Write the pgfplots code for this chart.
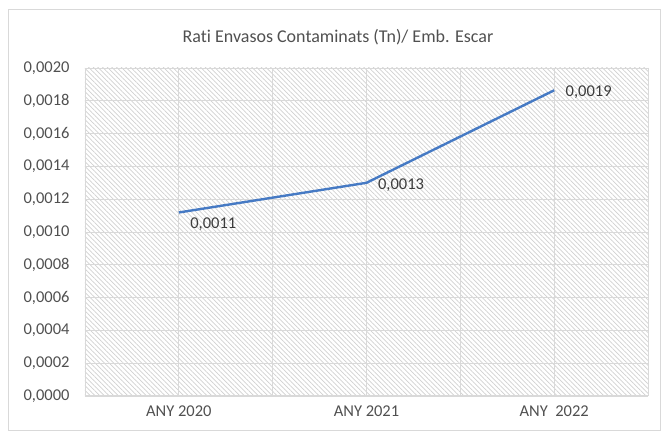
\documentclass[border=0pt]{standalone}
\usepackage{fontspec}
\setmainfont{Carlito}[Ligatures=NoCommon]
\usepackage{pgfplots}
\pgfplotsset{compat=1.18}
\usetikzlibrary{patterns.meta}
\definecolor{txtgray}{RGB}{80,80,80}
\definecolor{lblgray}{RGB}{60,60,60}
\definecolor{gridgray}{RGB}{217,217,217}
\definecolor{hatchgray}{RGB}{208,208,208}
\definecolor{linecol}{RGB}{70,122,196}
\begin{document}
\begin{tikzpicture}[x=1pt,y=1pt]
\path[use as bounding box] (0,0) rectangle (665,436);
\draw[gridgray, line width=0.8pt] (8,6) rectangle (660,427);
\node[text=txtgray, font=\fontsize{18}{20}\selectfont] at (338,399) {Rati Envasos Contaminats (Tn)/ Emb. Escar};
\begin{axis}[
  at={(85pt,40pt)}, anchor=south west,
  scale only axis, width=563pt, height=328pt,
  xmin=-0.5, xmax=2.5, ymin=0, ymax=0.002,
  axis line style={draw=none},
  axis background/.style={pattern={Lines[angle=-45,distance=3.3pt,line width=0.7pt]}, pattern color=hatchgray},
  xtick={0,1,2}, xticklabels={ANY 2020, ANY 2021, ANY\ \ 2022},
  minor xtick={-0.5,0.5,1.5,2.5},
  ytick={0,0.0002,...,0.0021},
  grid=both,
  major grid style={gridgray, line width=0.8pt},
  minor grid style={gridgray, line width=0.8pt},
  major tick length=0pt, minor tick length=0pt,
  scaled y ticks=false,
  /pgf/number format/fixed, /pgf/number format/fixed zerofill, /pgf/number format/precision=4,
  /pgf/number format/use comma, /pgf/number format/assume math mode=true,
  ticklabel style={text=txtgray, font=\fontsize{16.5}{18}\selectfont},
  yticklabel style={xshift=-12pt},
  xticklabel style={yshift=-6pt},
  clip=false,
]
\draw[gridgray, line width=1pt] (axis cs:-0.5,0) -- (axis cs:2.5,0);
\addplot[linecol, line width=2.4pt, line join=round] coordinates {(0,0.001119) (1,0.001300) (2,0.001864)};
\addplot[draw=none, nodes near coords, point meta=explicit symbolic,
  nodes near coords style={anchor=north west, text=lblgray, font=\fontsize{16.5}{18}\selectfont, xshift=8pt, yshift=-2pt}]
  coordinates {(0,0.001119) [0,0011]};
\addplot[draw=none, nodes near coords, point meta=explicit symbolic,
  nodes near coords style={anchor=west, text=lblgray, font=\fontsize{16.5}{18}\selectfont, xshift=8pt, yshift=-2pt}]
  coordinates {(1,0.001300) [0,0013] (2,0.001864) [0,0019]};
\end{axis}
\end{tikzpicture}
\end{document}
